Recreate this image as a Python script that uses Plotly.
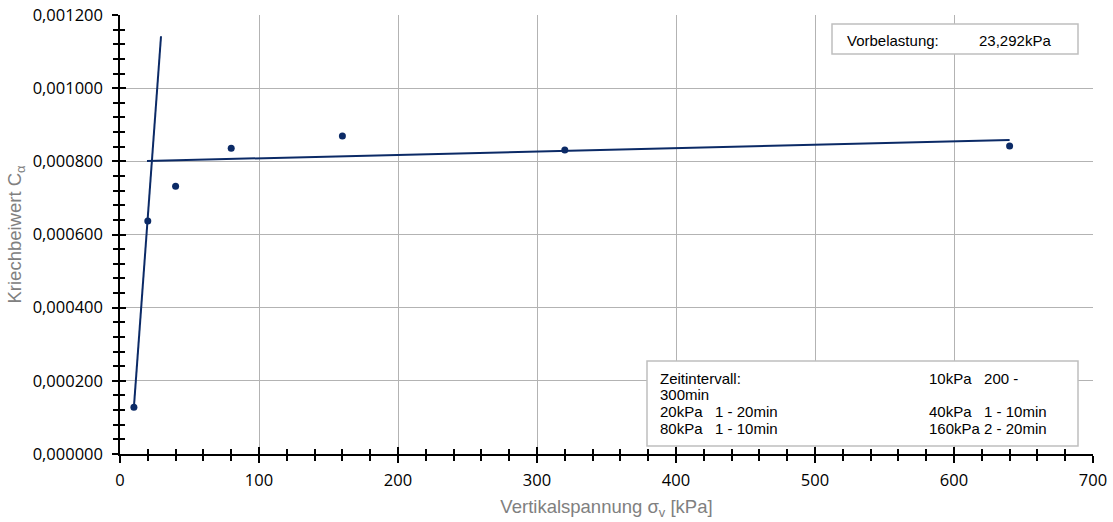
import plotly.graph_objects as go

# Data
sigma_v = [10, 20, 40, 80, 160, 320, 640]
c_alpha = [0.000128, 0.000637, 0.000732, 0.000836, 0.000869, 0.000831, 0.000842]
line1_x = [10, 29.5]
line1_y = [0.000128, 0.001142]
line2_x = [19.4, 640]
line2_y = [0.000801, 0.000858]

x_ticks = [0, 100, 200, 300, 400, 500, 600, 700]
y_ticks = [0, 0.0002, 0.0004, 0.0006, 0.0008, 0.0010, 0.0012]

vorbelastung = ["Vorbelastung:", "23,292kPa"]
zeit_left = ["Zeitintervall:", "300min", "20kPa   1 - 20min", "80kPa   1 - 10min"]
zeit_right = ["10kPa   200 -", "", "40kPa   1 - 10min", "160kPa 2 - 20min"]

NAVY = "#0b2a66"
GRID = "#b3b3b3"

fig = go.Figure()
fig.add_trace(go.Scatter(x=line1_x, y=line1_y, mode="lines",
                         line=dict(color=NAVY, width=2), showlegend=False, hoverinfo="skip"))
fig.add_trace(go.Scatter(x=line2_x, y=line2_y, mode="lines",
                         line=dict(color=NAVY, width=2), showlegend=False, hoverinfo="skip"))
fig.add_trace(go.Scatter(x=sigma_v, y=c_alpha, mode="markers",
                         marker=dict(color=NAVY, size=7), showlegend=False))
# invisible trace for overlay axes (inside ticks to make crossing ticks)
fig.add_trace(go.Scatter(x=[None], y=[None], xaxis="x2", yaxis="y2", showlegend=False))

tick_font = dict(family="Open Sans", size=16.5, color="#000000")
title_font = dict(family="Liberation Sans", size=18.5, color="#808080")

fig.update_layout(
    width=1113, height=522,
    margin=dict(l=120, r=20, t=15, b=68, autoexpand=False),
    paper_bgcolor="white", plot_bgcolor="white",
    separators=",.",
    xaxis=dict(range=[0, 700], tickvals=x_ticks, ticktext=[str(v) for v in x_ticks],
               showgrid=True, gridcolor=GRID, gridwidth=1,
               showline=True, linecolor="#000000", linewidth=1.5,
               ticks="outside", ticklen=7, tickcolor="#000000", tickwidth=1.5,
               minor=dict(dtick=20, ticks="outside", ticklen=5, tickcolor="#000000", showgrid=False),
               tickfont=tick_font, zeroline=False, ticklabelstandoff=3,
               title=dict(text="Vertikalspannung σ<sub>v</sub> [kPa]", font=title_font, standoff=11)),
    yaxis=dict(range=[0, 0.0012], tickvals=y_ticks, tickformat=".6f",
               showgrid=True, gridcolor=GRID, gridwidth=1,
               showline=True, linecolor="#000000", linewidth=1.5,
               ticks="outside", ticklen=6, tickcolor="#000000", tickwidth=1.5,
               minor=dict(dtick=0.00004, ticks="outside", ticklen=5, tickcolor="#000000", showgrid=False),
               tickfont=tick_font, zeroline=False, ticklabelstandoff=6,
               title=dict(text="Kriechbeiwert C<sub>α</sub>", font=title_font, standoff=6)),
    xaxis2=dict(range=[0, 700], overlaying="x", showgrid=False, showticklabels=False,
                tickvals=x_ticks, ticks="inside", ticklen=7, tickcolor="#000000", tickwidth=1.5,
                minor=dict(dtick=20, ticks="inside", ticklen=5, tickcolor="#000000"),
                zeroline=False, showline=False),
    yaxis2=dict(range=[0, 0.0012], overlaying="y", showgrid=False, showticklabels=False,
                tickvals=y_ticks, ticks="inside", ticklen=6, tickcolor="#000000", tickwidth=1.5,
                minor=dict(dtick=0.00004, ticks="inside", ticklen=5, tickcolor="#000000"),
                zeroline=False, showline=False),
)

W, H, L, T = 973, 439, 120, 15
def px(x): return (x - L) / W
def py(y): return (T + H - y) / H

box_line = dict(color="#bfbfbf", width=1.5)
fig.add_shape(type="rect", xref="paper", yref="paper",
              x0=px(832), x1=px(1078), y0=py(54), y1=py(24),
              line=box_line, fillcolor="white")
fig.add_shape(type="rect", xref="paper", yref="paper",
              x0=px(647), x1=px(1078), y0=py(446), y1=py(361),
              line=box_line, fillcolor="white")

ann_font = dict(family="Liberation Sans", size=15, color="#000000")
fig.add_annotation(x=px(845), y=py(40), xref="paper", yref="paper", text=vorbelastung[0],
                   showarrow=False, xanchor="left", yanchor="middle", font=ann_font)
fig.add_annotation(x=px(1053), y=py(40), xref="paper", yref="paper", text=vorbelastung[1],
                   showarrow=False, xanchor="right", yanchor="middle", font=ann_font)
row_y = [378, 394, 411, 428]
for i in range(4):
    if zeit_left[i]:
        fig.add_annotation(x=px(658), y=py(row_y[i]), xref="paper", yref="paper", text=zeit_left[i],
                           showarrow=False, xanchor="left", yanchor="middle", font=ann_font)
    if zeit_right[i]:
        fig.add_annotation(x=px(927), y=py(row_y[i]), xref="paper", yref="paper", text=zeit_right[i],
                           showarrow=False, xanchor="left", yanchor="middle", font=ann_font)

fig.write_html("out.html", config={"displayModeBar": False},
               post_script="document.body.style.margin='0';")
